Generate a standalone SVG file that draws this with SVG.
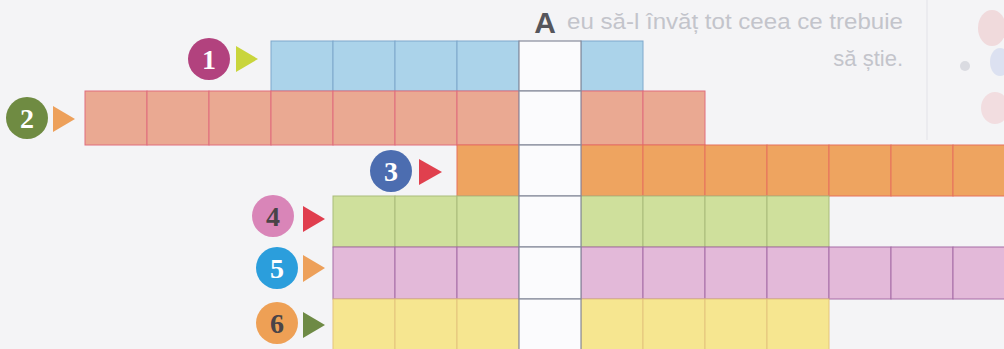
<svg xmlns="http://www.w3.org/2000/svg" width="1004" height="349" viewBox="0 0 1004 349">
<style>
.bgtext{font-family:"Liberation Sans",Arial,sans-serif;font-size:22px;fill:#c3c4cb}
.c1{fill:#abd3ea;stroke:#7ea8cc;stroke-width:1}
.c2{fill:#eaa992;stroke:#e06c7c;stroke-width:1}
.c3{fill:#eea460;stroke:#e6705c;stroke-width:1}
.c4{fill:#cfe09c;stroke:#a9bb7a;stroke-width:1}
.c5{fill:#e3b9d9;stroke:#a66ca6;stroke-width:1}
.c6{fill:#f6e690;stroke:#e4c47c;stroke-width:1}
.ca{fill:#fbfbfd;stroke:#878c9c;stroke-width:1.2}
.num{font-family:"Liberation Serif","Times New Roman",serif;font-weight:bold;font-size:28px;text-anchor:middle}
.lbl{font-family:"Liberation Sans",Arial,sans-serif;font-weight:bold;font-size:30px;fill:#56565c;text-anchor:middle}
</style>
<rect width="1004" height="349" fill="#f4f4f6"/>
<g id="page-art" opacity="0.6">
<line x1="927" y1="0" x2="927" y2="140" stroke="#e2e2e8" stroke-width="1.5"/>
<ellipse cx="992" cy="28" rx="14" ry="18" fill="#efc9cc"/>
<ellipse cx="1000" cy="62" rx="10" ry="14" fill="#cdd6ee"/>
<ellipse cx="995" cy="108" rx="14" ry="16" fill="#f1cfd2"/>
<circle cx="965" cy="66" r="5" fill="#c9cbd4"/>
</g>
<g id="background-text">
<text class="bgtext" x="567" y="29" textLength="336" lengthAdjust="spacingAndGlyphs">eu să-l învăț tot ceea ce trebuie</text>
<text class="bgtext" x="903" y="66" text-anchor="end">să știe.</text>
</g>
<text class="lbl" x="545" y="33">A</text>
<g id="row1">
<circle cx="209" cy="59" r="21" fill="#b2427e"/>
<text class="num" x="209" y="69" fill="#ffffff">1</text>
<polygon points="236,46 258,59 236,72" fill="#c9d53c"/>
<rect class="c1" x="271" y="41" width="62" height="50"/>
<rect class="c1" x="333" y="41" width="62" height="50"/>
<rect class="c1" x="395" y="41" width="62" height="50"/>
<rect class="c1" x="457" y="41" width="62" height="50"/>
<rect class="c1" x="581" y="41" width="62" height="50"/>
</g>
<g id="row2">
<circle cx="27" cy="118" r="21" fill="#6f8b42"/>
<text class="num" x="27" y="128" fill="#ffffff">2</text>
<polygon points="53,106 75,119 53,132" fill="#eda05a"/>
<rect class="c2" x="85" y="91" width="62" height="54"/>
<rect class="c2" x="147" y="91" width="62" height="54"/>
<rect class="c2" x="209" y="91" width="62" height="54"/>
<rect class="c2" x="271" y="91" width="62" height="54"/>
<rect class="c2" x="333" y="91" width="62" height="54"/>
<rect class="c2" x="395" y="91" width="62" height="54"/>
<rect class="c2" x="457" y="91" width="62" height="54"/>
<rect class="c2" x="581" y="91" width="62" height="54"/>
<rect class="c2" x="643" y="91" width="62" height="54"/>
</g>
<g id="row3">
<circle cx="391" cy="171" r="21" fill="#4c6db0"/>
<text class="num" x="391" y="181" fill="#ffffff">3</text>
<polygon points="419,159 442,172 419,185" fill="#e0404e"/>
<rect class="c3" x="457" y="145" width="62" height="51"/>
<rect class="c3" x="581" y="145" width="62" height="51"/>
<rect class="c3" x="643" y="145" width="62" height="51"/>
<rect class="c3" x="705" y="145" width="62" height="51"/>
<rect class="c3" x="767" y="145" width="62" height="51"/>
<rect class="c3" x="829" y="145" width="62" height="51"/>
<rect class="c3" x="891" y="145" width="62" height="51"/>
<rect class="c3" x="953" y="145" width="62" height="51"/>
</g>
<g id="row4">
<circle cx="273" cy="216" r="21" fill="#d985b8"/>
<text class="num" x="273" y="226" fill="#4a4448">4</text>
<polygon points="303,206 325,219 303,232" fill="#e03e4e"/>
<rect class="c4" x="333" y="196" width="62" height="51"/>
<rect class="c4" x="395" y="196" width="62" height="51"/>
<rect class="c4" x="457" y="196" width="62" height="51"/>
<rect class="c4" x="581" y="196" width="62" height="51"/>
<rect class="c4" x="643" y="196" width="62" height="51"/>
<rect class="c4" x="705" y="196" width="62" height="51"/>
<rect class="c4" x="767" y="196" width="62" height="51"/>
</g>
<g id="row5">
<circle cx="277" cy="268" r="21" fill="#2b9edc"/>
<text class="num" x="277" y="278" fill="#ffffff">5</text>
<polygon points="303,255 325,268 303,282" fill="#eda05a"/>
<rect class="c5" x="333" y="247" width="62" height="52"/>
<rect class="c5" x="395" y="247" width="62" height="52"/>
<rect class="c5" x="457" y="247" width="62" height="52"/>
<rect class="c5" x="581" y="247" width="62" height="52"/>
<rect class="c5" x="643" y="247" width="62" height="52"/>
<rect class="c5" x="705" y="247" width="62" height="52"/>
<rect class="c5" x="767" y="247" width="62" height="52"/>
<rect class="c5" x="829" y="247" width="62" height="52"/>
<rect class="c5" x="891" y="247" width="62" height="52"/>
<rect class="c5" x="953" y="247" width="62" height="52"/>
</g>
<g id="row6">
<circle cx="277" cy="323" r="21" fill="#eea055"/>
<text class="num" x="277" y="333" fill="#4a4448">6</text>
<polygon points="303,312 325,325 303,338" fill="#6e8a45"/>
<rect class="c6" x="333" y="299" width="62" height="54"/>
<rect class="c6" x="395" y="299" width="62" height="54"/>
<rect class="c6" x="457" y="299" width="62" height="54"/>
<rect class="c6" x="581" y="299" width="62" height="54"/>
<rect class="c6" x="643" y="299" width="62" height="54"/>
<rect class="c6" x="705" y="299" width="62" height="54"/>
<rect class="c6" x="767" y="299" width="62" height="54"/>
</g>
<g id="columnA">
<rect class="ca" x="519" y="41" width="62" height="50"/>
<rect class="ca" x="519" y="91" width="62" height="54"/>
<rect class="ca" x="519" y="145" width="62" height="51"/>
<rect class="ca" x="519" y="196" width="62" height="51"/>
<rect class="ca" x="519" y="247" width="62" height="52"/>
<rect class="ca" x="519" y="299" width="62" height="54"/>
</g>
</svg>
